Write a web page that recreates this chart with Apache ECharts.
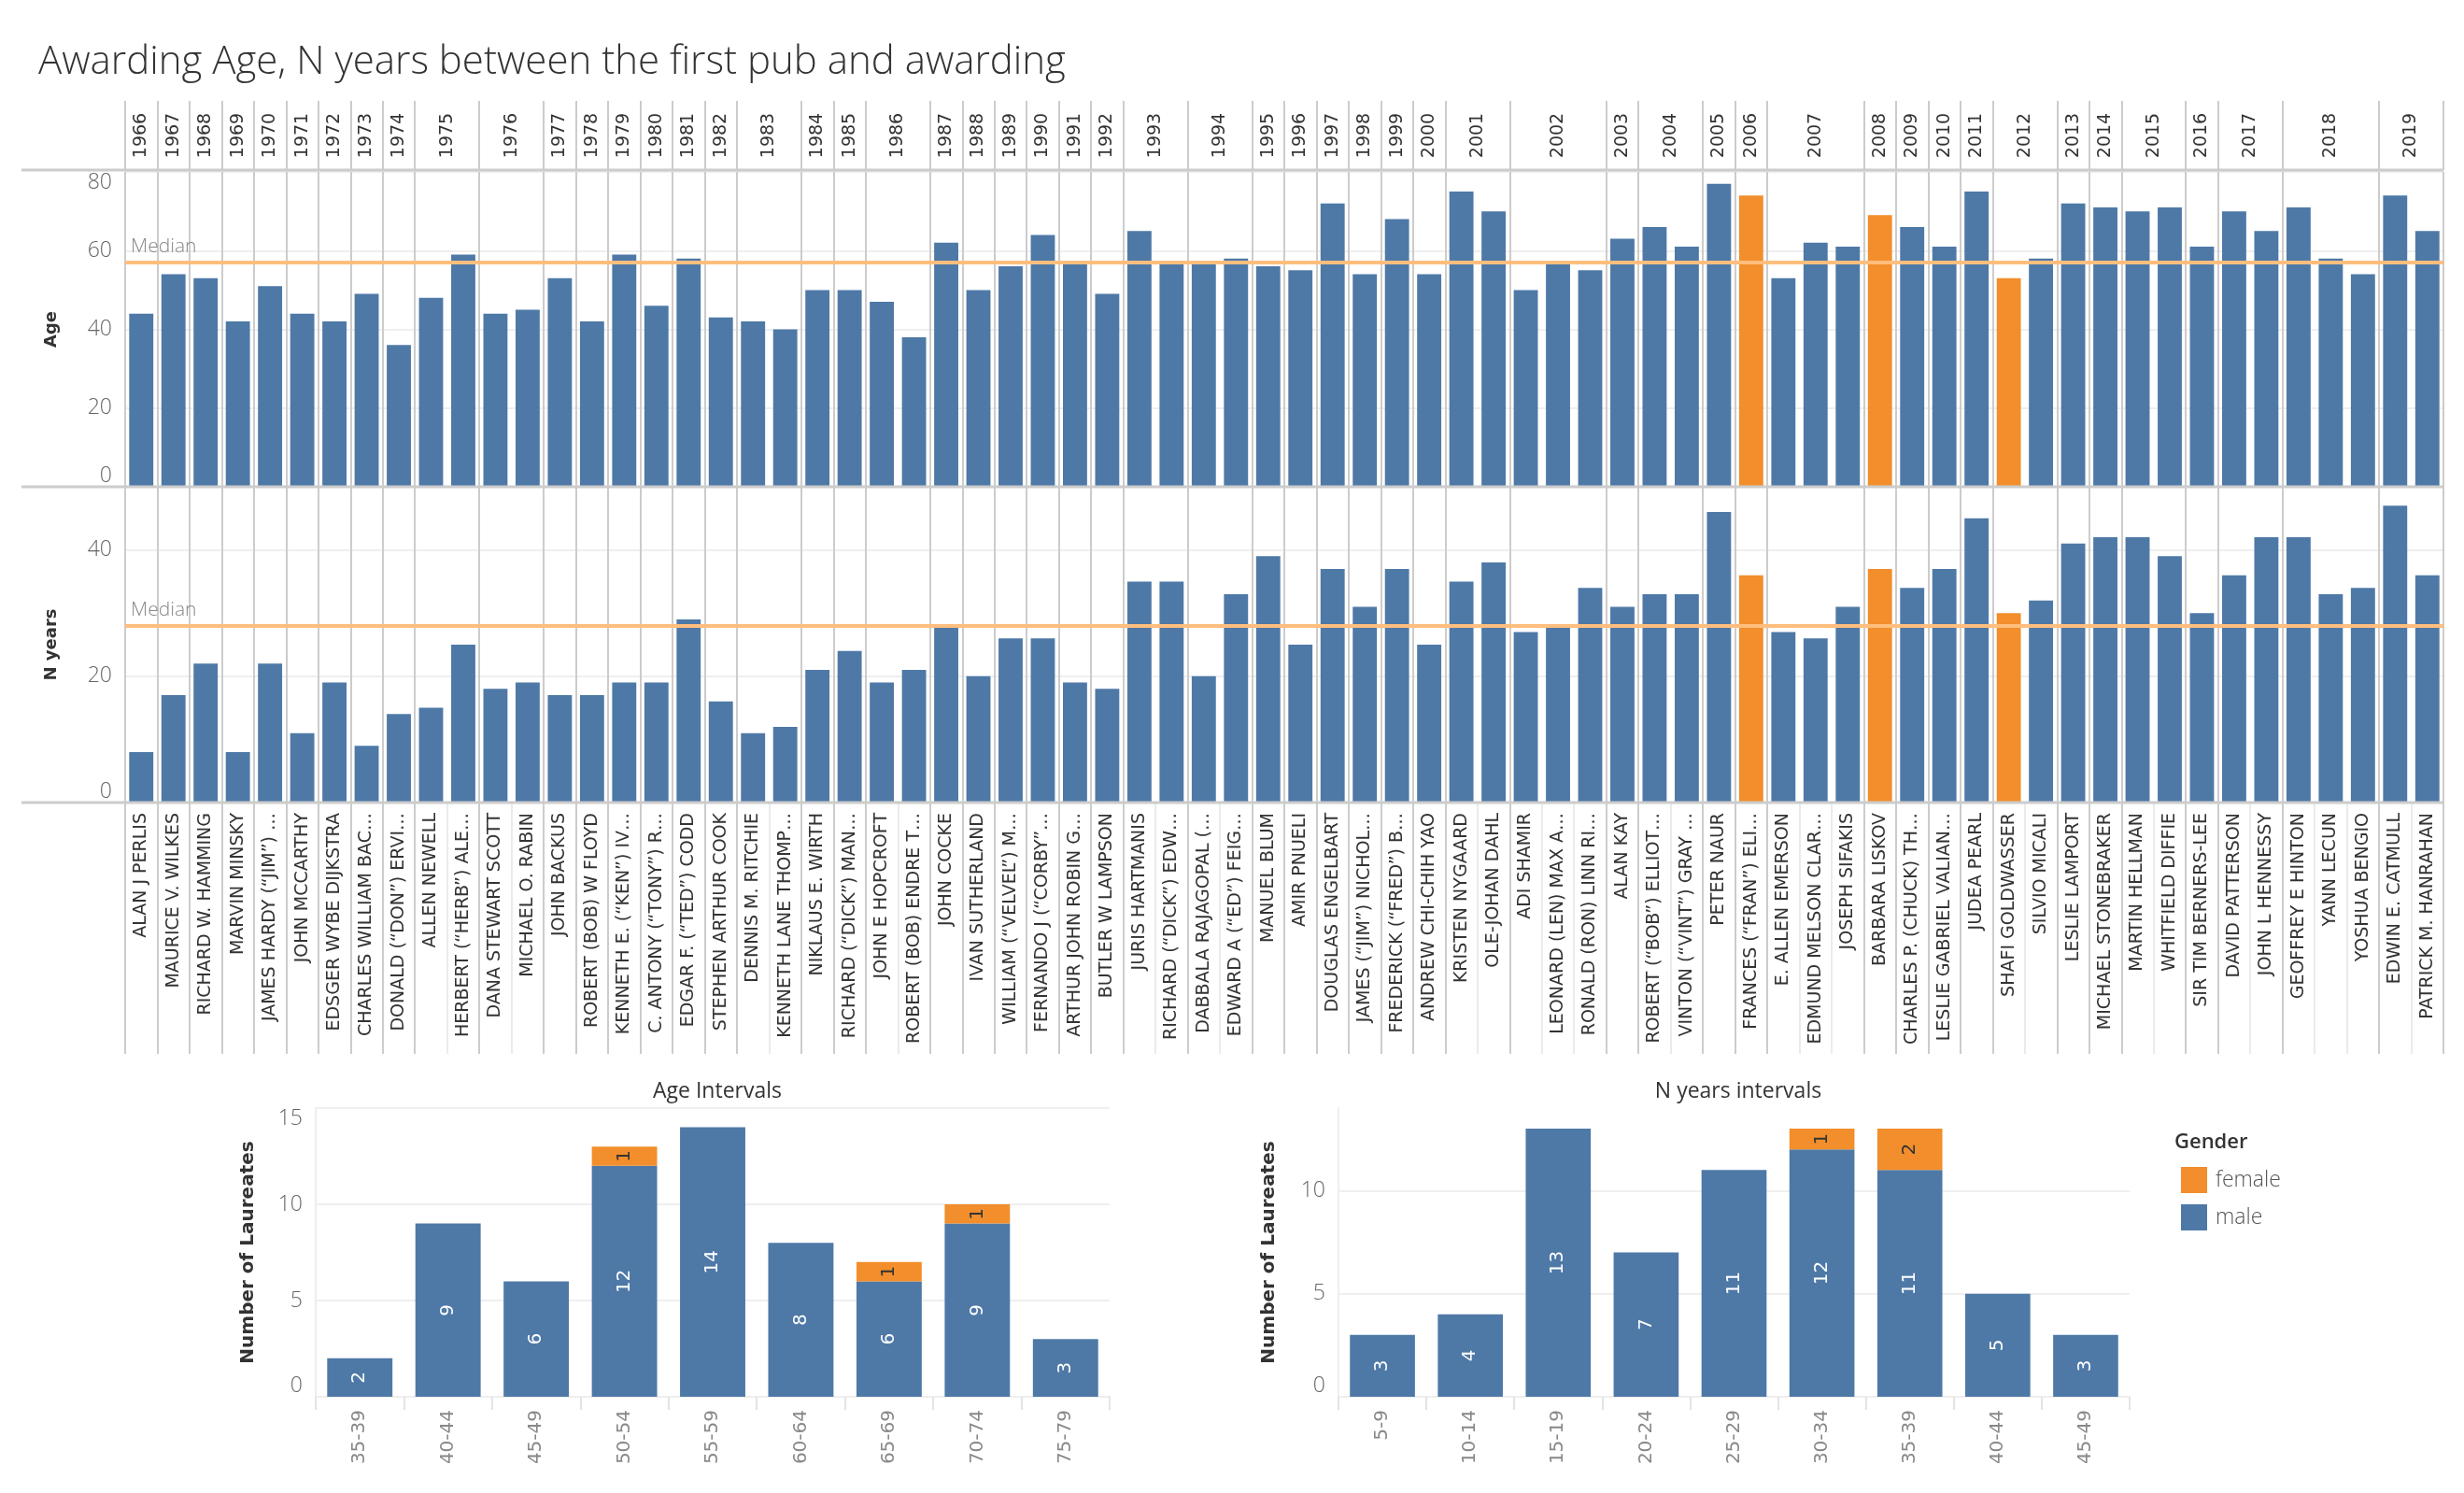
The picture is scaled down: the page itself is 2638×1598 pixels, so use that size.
<!DOCTYPE html>
<html style="height:100%">
<head>
<meta charset="utf-8">
<title>Awarding Age</title>
<script src="https://cdn.jsdelivr.net/npm/echarts@6.0.0/dist/echarts.min.js"></script>
</head>
<body style="height:100%;margin:0;background:#fff">
<div id="container" style="width:100%;height:100%"></div>
<script>
// one entry per laureate, in award order
const years = [1966, 1967, 1968, 1969, 1970, 1971, 1972, 1973, 1974, 1975, 1975, 1976, 1976, 1977, 1978, 1979,
  1980, 1981, 1982, 1983, 1983, 1984, 1985, 1986, 1986, 1987, 1988, 1989, 1990, 1991, 1992, 1993, 1993, 1994, 1994,
  1995, 1996, 1997, 1998, 1999, 2000, 2001, 2001, 2002, 2002, 2002, 2003, 2004, 2004, 2005, 2006, 2007, 2007, 2007,
  2008, 2009, 2010, 2011, 2012, 2012, 2013, 2014, 2015, 2015, 2016, 2017, 2017, 2018, 2018, 2018, 2019, 2019];

const names = ['ALAN J PERLIS', 'MAURICE V. WILKES', 'RICHARD W. HAMMING', 'MARVIN MINSKY',
  'JAMES HARDY (“JIM”) …', 'JOHN MCCARTHY', 'EDSGER WYBE DIJKSTRA', 'CHARLES WILLIAM BAC…',
  'DONALD (“DON”) ERVI…', 'ALLEN NEWELL', 'HERBERT (“HERB”) ALE…', 'DANA STEWART SCOTT', 'MICHAEL O. RABIN',
  'JOHN BACKUS', 'ROBERT (BOB) W FLOYD', 'KENNETH E. (“KEN”) IV…', 'C. ANTONY (“TONY”) R…',
  'EDGAR F. (“TED”) CODD', 'STEPHEN ARTHUR COOK', 'DENNIS M. RITCHIE', 'KENNETH LANE THOMP…',
  'NIKLAUS E. WIRTH', 'RICHARD (“DICK”) MAN…', 'JOHN E HOPCROFT', 'ROBERT (BOB) ENDRE T…', 'JOHN COCKE',
  'IVAN SUTHERLAND', 'WILLIAM (“VELVEL”) M…', 'FERNANDO J (“CORBY”…', 'ARTHUR JOHN ROBIN G…',
  'BUTLER W LAMPSON', 'JURIS HARTMANIS', 'RICHARD (“DICK”) EDW…', 'DABBALA RAJAGOPAL (…',
  'EDWARD A (“ED”) FEIG…', 'MANUEL BLUM', 'AMIR PNUELI', 'DOUGLAS ENGELBART', 'JAMES (“JIM”) NICHOL…',
  'FREDERICK (“FRED”) B…', 'ANDREW CHI-CHIH YAO', 'KRISTEN NYGAARD', 'OLE-JOHAN DAHL', 'ADI SHAMIR',
  'LEONARD (LEN) MAX A…', 'RONALD (RON) LINN RI…', 'ALAN KAY', 'ROBERT (“BOB”) ELLIOT…',
  'VINTON (“VINT”) GRAY …', 'PETER NAUR', 'FRANCES (“FRAN”) ELI…', 'E. ALLEN EMERSON',
  'EDMUND MELSON CLAR…', 'JOSEPH SIFAKIS', 'BARBARA LISKOV', 'CHARLES P. (CHUCK) TH…',
  'LESLIE GABRIEL VALIAN…', 'JUDEA PEARL', 'SHAFI GOLDWASSER', 'SILVIO MICALI', 'LESLIE LAMPORT',
  'MICHAEL STONEBRAKER', 'MARTIN HELLMAN', 'WHITFIELD DIFFIE', 'SIR TIM BERNERS-LEE', 'DAVID PATTERSON',
  'JOHN L HENNESSY', 'GEOFFREY E HINTON', 'YANN LECUN', 'YOSHUA BENGIO', 'EDWIN E. CATMULL',
  'PATRICK M. HANRAHAN'];

const ages = [44, 54, 53, 42, 51, 44, 42, 49, 36, 48, 59, 44, 45, 53, 42, 59, 46, 58, 43, 42, 40, 50, 50, 47, 38,
  62, 50, 56, 64, 57, 49, 65, 57, 57, 58, 56, 55, 72, 54, 68, 54, 75, 70, 50, 57, 55, 63, 66, 61, 77, 74, 53, 62,
  61, 69, 66, 61, 75, 53, 58, 72, 71, 70, 71, 61, 70, 65, 71, 58, 54, 74, 65];

const nYears = [8, 17, 22, 8, 22, 11, 19, 9, 14, 15, 25, 18, 19, 17, 17, 19, 19, 29, 16, 11, 12, 21, 24, 19, 21,
  28, 20, 26, 26, 19, 18, 35, 35, 20, 33, 39, 25, 37, 31, 37, 25, 35, 38, 27, 28, 34, 31, 33, 33, 46, 36, 27, 26,
  31, 37, 34, 37, 45, 30, 32, 41, 42, 42, 39, 30, 36, 42, 42, 33, 34, 47, 36];

const femaleNames = ['FRANCES (“FRAN”) ELI…', 'BARBARA LISKOV', 'SHAFI GOLDWASSER'];

// histograms
const ageBins = ['35-39', '40-44', '45-49', '50-54', '55-59', '60-64', '65-69', '70-74', '75-79'];
const ageMale = [2, 9, 6, 12, 14, 8, 6, 9, 3];
const ageFemale = [0, 0, 0, 1, 0, 0, 1, 1, 0];
const nBins = ['5-9', '10-14', '15-19', '20-24', '25-29', '30-34', '35-39', '40-44', '45-49'];
const nMale = [3, 4, 13, 7, 11, 12, 11, 5, 3];
const nFemale = [0, 0, 0, 0, 0, 1, 2, 0, 0];

const BLUE = '#4e79a7';
const ORANGE = '#f28e2b';
const MEDIAN = '#ffbe7d';
const SEP = '#cccccc';
const GRID = '#efefef';
const SANS = 'Open Sans';
const ROT = 'DejaVu Sans';

// [first index, number of laureates, year]
const yearGroups = [];
years.forEach(function (y, i) {
  const last = yearGroups[yearGroups.length - 1];
  if (last && last[2] === y) last[1]++;
  else yearGroups.push([i, 1, y]);
});
const isYearStart = function (i) { return i === 0 || years[i] !== years[i - 1]; };
const genderColor = function (p) { return femaleNames.indexOf(names[p.dataIndex]) >= 0 ? ORANGE : BLUE; };

const myChart = echarts.init(document.getElementById('container'));

const L = 134, R = 22;

const paneX = function (grid) {
  return {
    type: 'category', gridIndex: grid, data: names,
    axisLine: { show: false }, axisTick: { show: false }, axisLabel: { show: false },
    splitLine: { show: true, interval: isYearStart, lineStyle: { color: SEP, width: 2 } }
  };
};

const valueY = function (grid, max, interval, name, gap) {
  return {
    type: 'value', gridIndex: grid, min: 0, max: max, interval: interval,
    name: name, nameLocation: 'middle', nameRotate: 90, nameGap: gap,
    nameTextStyle: { fontFamily: ROT, fontWeight: 'bold', fontSize: 18, color: '#333' },
    axisLine: { show: false }, axisTick: { show: false },
    axisLabel: {
      fontFamily: SANS, fontWeight: 300, fontSize: 23, color: '#666', margin: 14,
      verticalAlignMinLabel: 'bottom', verticalAlignMaxLabel: 'top'
    },
    splitLine: { lineStyle: { color: GRID, width: 2 } }
  };
};

const histX = function (grid, bins) {
  return {
    type: 'category', gridIndex: grid, data: bins,
    axisLine: { lineStyle: { color: '#eeeeee', width: 2 } },
    axisTick: { show: true, length: 14, lineStyle: { color: '#e4e4e4', width: 2 } },
    axisLabel: { rotate: 90, fontFamily: ROT, fontSize: 20, color: '#888', margin: 14 }
  };
};

const histY = function (grid, max, gap) {
  const ax = valueY(grid, max, 5, 'Number of Laureates', gap);
  ax.nameTextStyle.fontSize = 20;
  ax.axisLine = { show: true, lineStyle: { color: '#eeeeee', width: 2 } };
  return ax;
};

const histSeries = function (name, data, xi, yi, color, labelColor) {
  return {
    type: 'bar', name: name, stack: 'g' + xi, xAxisIndex: xi, yAxisIndex: yi,
    data: data, barCategoryGap: '26%', itemStyle: { color: color },
    label: {
      show: true, position: 'inside', rotate: 90, fontFamily: ROT, fontSize: 20, color: labelColor,
      formatter: function (p) { return p.value ? String(p.value) : ''; }
    },
    emphasis: { disabled: true }
  };
};

const medianLine = {
  silent: true, symbol: ['none', 'none'],
  lineStyle: { color: MEDIAN, width: 4, type: 'solid' },
  label: {
    show: true, position: 'insideStartTop', formatter: 'Median',
    fontFamily: SANS, fontWeight: 300, fontSize: 21, color: '#888', distance: [6, 6]
  },
  data: [{ type: 'median' }]
};

const hLine = function (y) {
  return { type: 'line', shape: { x1: 23, y1: y, x2: 2638 - R, y2: y }, style: { stroke: SEP, lineWidth: 3 }, z: 100 };
};

const option = {
  animation: false,
  backgroundColor: '#ffffff',
  title: [
    {
      text: 'Awarding Age, N years between the first pub and awarding', left: 36, top: 41,
      textStyle: { fontFamily: SANS, fontWeight: 300, fontSize: 42, color: '#333' }
    },
    {
      text: 'Age Intervals', left: 763, top: 1152, textAlign: 'center',
      textStyle: { fontFamily: SANS, fontWeight: 'normal', fontSize: 23, color: '#333' }
    },
    {
      text: 'N years intervals', left: 1856, top: 1152, textAlign: 'center',
      textStyle: { fontFamily: SANS, fontWeight: 'normal', fontSize: 23, color: '#333' }
    },
    {
      text: 'Gender', left: 2323, top: 1207,
      textStyle: { fontFamily: SANS, fontWeight: 600, fontSize: 22, color: '#333' }
    }
  ],
  legend: {
    data: ['female', 'male'], orient: 'vertical', left: 2330, top: 1244,
    itemWidth: 28, itemHeight: 28, itemGap: 12, icon: 'rect',
    textStyle: { fontFamily: SANS, fontWeight: 300, fontSize: 23, color: '#555', padding: [0, 0, 0, 4] },
    selectedMode: false
  },
  grid: [
    { left: L, right: R, top: 108, height: 74 },
    { left: L, right: R, top: 184, height: 337 },
    { left: L, right: R, top: 521, height: 338 },
    { left: 338, width: 850, top: 1186, height: 309 },
    { left: 1433, width: 847, top: 1186, height: 309 }
  ],
  xAxis: [
    paneX(0),
    { type: 'value', gridIndex: 0, min: 0, max: names.length, show: false },
    paneX(1),
    {
      type: 'category', gridIndex: 2, data: names, position: 'bottom',
      axisLine: { show: false },
      axisTick: { show: true, interval: 0, length: 269, lineStyle: { color: '#ebebeb', width: 2 } },
      axisLabel: {
        interval: 0, rotate: 90, fontFamily: ROT, fontSize: 19, color: '#333', margin: 11,
        width: 266, overflow: 'truncate', ellipsis: '…'
      },
      splitLine: { show: true, interval: isYearStart, lineStyle: { color: SEP, width: 2 } }
    },
    {
      type: 'category', gridIndex: 2, data: names, position: 'bottom',
      axisLine: { show: false }, axisLabel: { show: false },
      axisTick: { show: true, interval: isYearStart, length: 269, lineStyle: { color: SEP, width: 2 } }
    },
    histX(3, ageBins),
    histX(4, nBins)
  ],
  yAxis: [
    { type: 'value', gridIndex: 0, min: 0, max: 1, show: false },
    valueY(1, 80, 20, 'Age', 70),
    valueY(2, 50, 20, 'N years', 70),
    histY(3, 15, 62),
    histY(4, 14, 64)
  ],
  series: [
    {
      type: 'custom', name: 'year', xAxisIndex: 1, yAxisIndex: 0, clip: false, silent: true,
      dimensions: ['start', 'count', 'year'], encode: { x: 'start' },
      data: yearGroups,
      renderItem: function (params, api) {
        const c = api.coord([api.value(0) + api.value(1) / 2, 0.5]);
        return {
          type: 'text', x: c[0], y: c[1], rotation: Math.PI / 2,
          style: {
            text: String(api.value(2)), fill: '#333', fontFamily: ROT, fontSize: 19,
            align: 'center', verticalAlign: 'middle'
          }
        };
      }
    },
    {
      type: 'bar', name: 'Age', xAxisIndex: 2, yAxisIndex: 1, data: ages,
      barCategoryGap: '25%', itemStyle: { color: genderColor },
      emphasis: { disabled: true }, markLine: medianLine
    },
    {
      type: 'bar', name: 'N years', xAxisIndex: 3, yAxisIndex: 2, data: nYears,
      barCategoryGap: '25%', itemStyle: { color: genderColor },
      emphasis: { disabled: true }, markLine: medianLine
    },
    histSeries('male', ageMale, 5, 3, BLUE, '#ffffff'),
    histSeries('female', ageFemale, 5, 3, ORANGE, '#333333'),
    histSeries('male', nMale, 6, 4, BLUE, '#ffffff'),
    histSeries('female', nFemale, 6, 4, ORANGE, '#333333')
  ],
  graphic: [hLine(182), hLine(521), hLine(859)]
};

option.yAxis[2].axisLabel.showMaxLabel = false;
option.yAxis[4].axisLabel.showMaxLabel = false;
option.yAxis[4].splitLine.showMaxLine = false;

myChart.setOption(option);
</script>
</body>
</html>
